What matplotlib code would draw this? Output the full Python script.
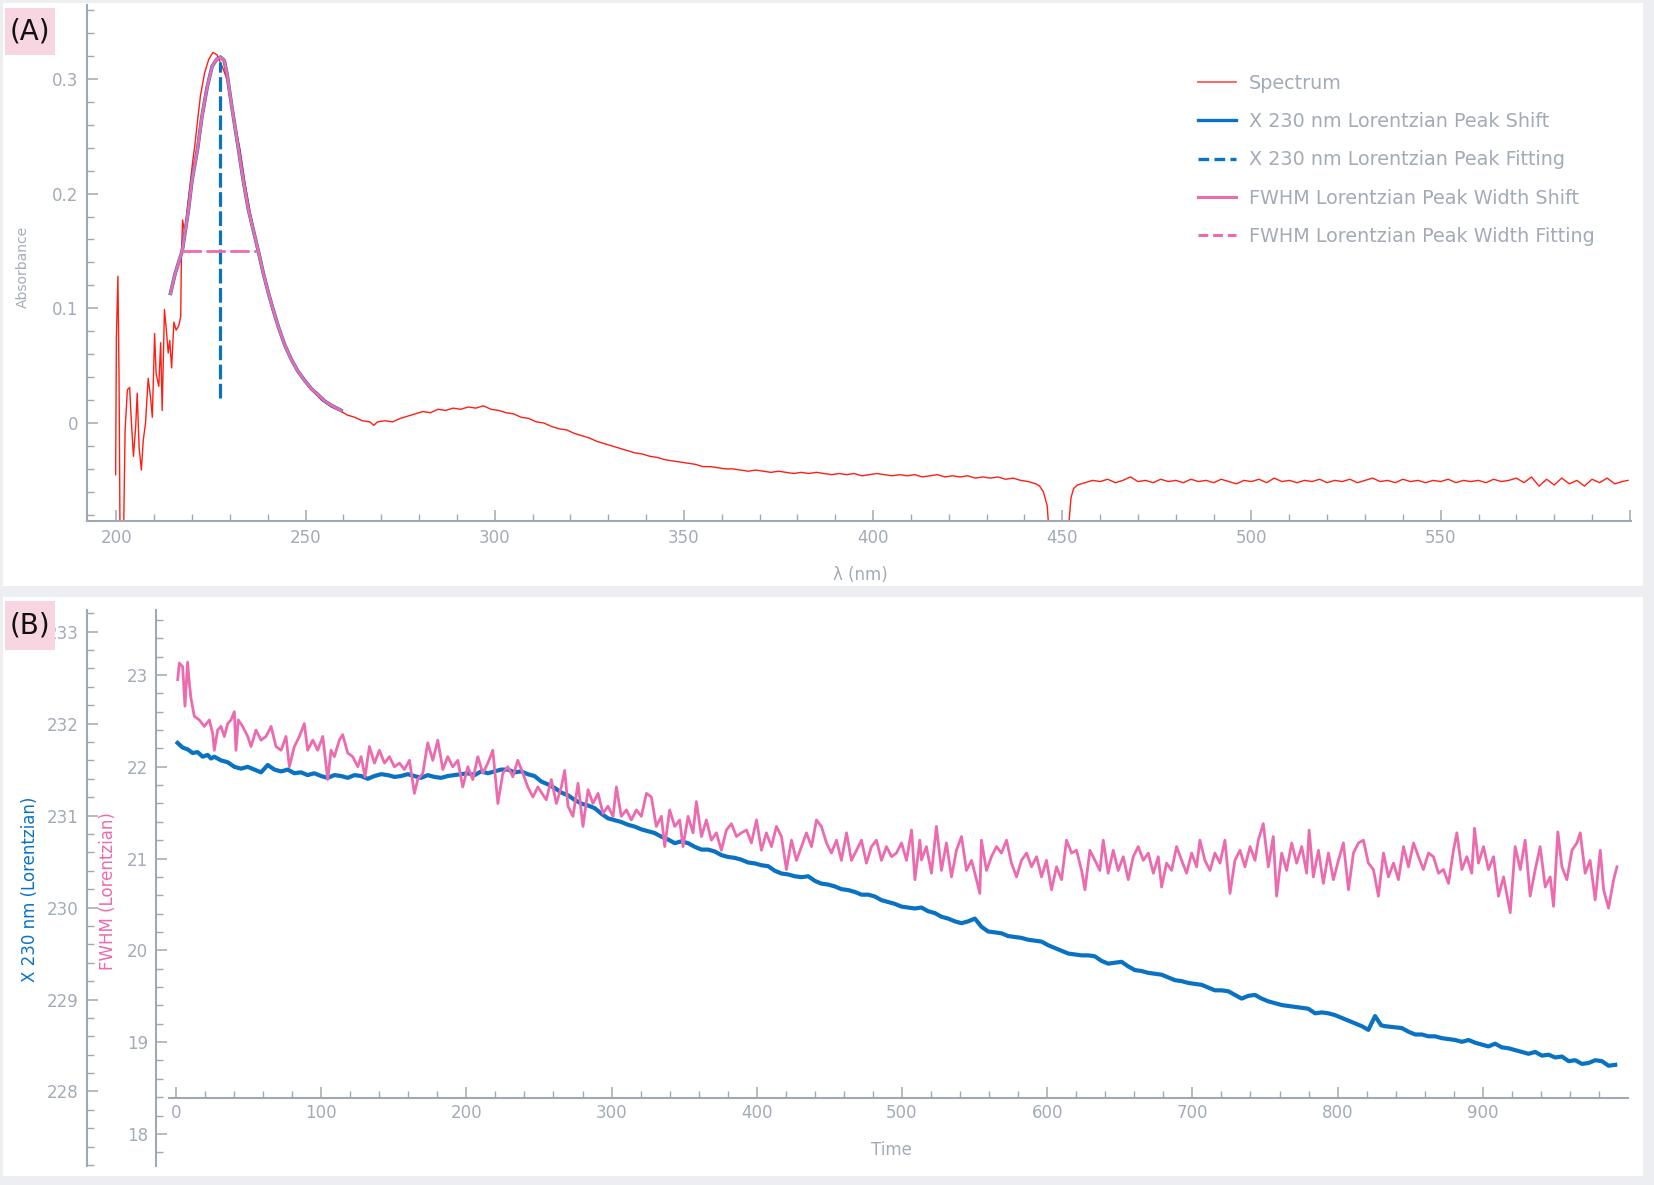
import matplotlib
matplotlib.use('Agg')
import matplotlib.pyplot as plt
from matplotlib.lines import Line2D
from matplotlib.patches import Rectangle
from matplotlib.ticker import FixedLocator

# ---------------- data: panel A (spectrum) ----------------
spec_wl = [199.8, 200.0, 200.4, 200.7, 201.0, 201.8, 202.3, 202.9, 203.5, 203.9, 204.5, 205.1, 205.5,
           206.0, 206.6, 207.1, 207.7, 208.4, 209.0, 209.5, 210.1, 210.5, 211.2, 211.7, 212.1, 212.7,
           213.2, 213.7, 214.1, 214.6, 215.2, 215.8, 216.5, 217.0, 217.2, 217.5, 218.1, 218.7, 219.3,
           220.2, 220.7, 221.3, 222.2, 223.3, 224.4, 225.5, 226.6, 227.5, 228.3, 229.6, 230.5, 231.4,
           232.7, 234.0, 235.4, 236.7, 238.0, 239.3, 240.6, 241.9, 243.7, 245.4, 247.2, 248.9, 251.6,
           254.2, 256.8, 259, 261, 263, 265, 267, 268, 269, 271, 273, 275, 277, 279, 281, 283, 285, 287,
           289, 291, 293, 295, 297, 299, 301, 303, 305, 307, 309, 311, 313, 315, 317, 319, 321, 323, 325,
           327, 329, 331, 333, 335, 337, 339, 341, 343, 345, 347, 349, 351, 353, 355, 357, 359, 361, 363,
           365, 367, 369, 371, 373, 375, 377, 379, 381, 383, 385, 387, 389, 391, 393, 395, 397, 399, 401,
           403, 405, 407, 409, 411, 413, 415, 417, 419, 421, 423, 425, 427, 429, 431, 433, 435, 437, 439,
           441, 443, 444, 445, 446, 446.5, 447, 451.3, 451.8, 452.3, 453, 454, 455, 456, 458, 460, 462,
           464, 466, 468, 470, 472, 474, 476, 478, 480, 482, 484, 486, 488, 490, 492, 494, 496, 498, 500,
           502, 504, 506, 508, 510, 512, 514, 516, 518, 520, 522, 524, 526, 528, 530, 532, 534, 536, 538,
           540, 542, 544, 546, 548, 550, 552, 554, 556, 558, 560, 562, 564, 566, 568, 570, 572, 574, 576,
           578, 580, 582, 584, 586, 588, 590, 592, 594, 596, 598, 599.5]
spec_abs = [-0.045, 0.0755, 0.128, 0.040, -0.12, -0.12, -0.006, 0.029, 0.031, 0.005, -0.029, -0.003, 0.026,
            -0.021, -0.041, -0.015, 0.0, 0.039, 0.023, 0.005, 0.078, 0.043, 0.032, 0.070, 0.011, 0.099,
            0.081, 0.061, 0.072, 0.048, 0.088, 0.081, 0.085, 0.093, 0.148, 0.177, 0.165, 0.186, 0.203,
            0.229, 0.241, 0.259, 0.285, 0.305, 0.317, 0.323, 0.321, 0.314, 0.308, 0.296, 0.276, 0.259,
            0.238, 0.209, 0.183, 0.162, 0.145, 0.125, 0.107, 0.093, 0.075, 0.061, 0.049, 0.040, 0.029,
            0.020, 0.014, 0.011, 0.007, 0.005, 0.002, 0.001, -0.002, 0.001, 0.002, 0.001, 0.004, 0.006,
            0.008, 0.010, 0.009, 0.012, 0.011, 0.013, 0.012, 0.014, 0.013, 0.015, 0.012, 0.011, 0.009,
            0.008, 0.005, 0.004, 0.001, 0.0, -0.003, -0.005, -0.006, -0.009, -0.011, -0.013, -0.016,
            -0.018, -0.020, -0.022, -0.024, -0.026, -0.027, -0.029, -0.030, -0.032, -0.033, -0.034,
            -0.035, -0.036, -0.038, -0.038, -0.039, -0.040, -0.040, -0.041, -0.042, -0.041, -0.042,
            -0.043, -0.042, -0.043, -0.044, -0.043, -0.044, -0.043, -0.044, -0.045, -0.044, -0.045,
            -0.044, -0.046, -0.045, -0.044, -0.045, -0.046, -0.045, -0.046, -0.045, -0.047, -0.046,
            -0.045, -0.047, -0.046, -0.047, -0.046, -0.048, -0.047, -0.048, -0.047, -0.049, -0.048,
            -0.050, -0.051, -0.053, -0.055, -0.060, -0.072, -0.095, -0.13, -0.13, -0.085, -0.065, -0.057,
            -0.054, -0.053, -0.052, -0.050, -0.051, -0.049, -0.052, -0.050, -0.047, -0.051, -0.050,
            -0.052, -0.049, -0.051, -0.050, -0.052, -0.049, -0.051, -0.050, -0.052, -0.049, -0.051,
            -0.053, -0.050, -0.051, -0.049, -0.052, -0.048, -0.051, -0.050, -0.052, -0.050, -0.051,
            -0.049, -0.052, -0.050, -0.051, -0.049, -0.052, -0.050, -0.048, -0.051, -0.050, -0.052,
            -0.049, -0.051, -0.050, -0.052, -0.050, -0.051, -0.049, -0.052, -0.050, -0.051, -0.050,
            -0.052, -0.049, -0.051, -0.050, -0.048, -0.052, -0.047, -0.055, -0.049, -0.054, -0.048,
            -0.053, -0.050, -0.055, -0.049, -0.052, -0.048, -0.053, -0.051, -0.050]

# Lorentzian fit curve
fit_wl = [214.3, 215.5, 217.4, 219.0, 220.0, 221.5, 222.6, 224.0, 225.3, 226.5, 227.5, 228.5, 229.2,
          230.5, 231.5, 232.3, 233.5, 234.9, 236.2, 237.5, 238.8, 240.2, 241.5, 242.8, 244.5, 246.3,
          248.0, 249.8, 251.5, 253.5, 255.1, 257.0, 259.4]
fit_abs = [0.113, 0.130, 0.150, 0.185, 0.212, 0.240, 0.267, 0.293, 0.311, 0.317, 0.319, 0.316, 0.305,
           0.276, 0.255, 0.238, 0.212, 0.186, 0.168, 0.150, 0.131, 0.113, 0.098, 0.084, 0.068, 0.055,
           0.045, 0.037, 0.030, 0.024, 0.019, 0.015, 0.011]
peak_wl = [227.5, 227.5]
peak_abs = [0.022, 0.315]
fwhm_wl = [217.4, 237.5]
fwhm_abs = [0.150, 0.150]

x_ticks_a = [200, 250, 300, 350, 400, 450, 500, 550, 600]
x_ticklabels_a = ['200', '250', '300', '350', '400', '450', '500', '550', '']
y_ticks_a = [0, 0.1, 0.2, 0.3]
y_ticklabels_a = ['0', '0.1', '0.2', '0.3']

# ---------------- data: panel B (time series) ----------------
t_x = [1.1, 4.5, 8.0, 11.5, 14.9, 18.4, 21.8, 24.1, 26.4, 31.0, 35.6, 40.2, 44.8, 49.4, 54.0, 58.6,
       63.2, 67.8, 72.4, 77.0, 81.5, 86.1, 90.7, 95.3, 99.9, 104.5, 109.1, 113.7, 118.3, 122.9, 127.5,
       132.1, 136.7, 141.3, 145.9, 150.5, 155.0, 159.6, 164.2, 168.8, 173.4, 178.0, 182.6, 187.2,
       191.8, 196.4, 201.0, 205.6, 210.2, 214.8, 219.4, 224.0, 228.6, 233.2, 237.7, 242.3, 246.9,
       251.6, 256.1, 260.8, 265.4, 270.0, 274.6, 279.2, 283.8, 288.4, 293.0, 297.5, 302.1, 306.7,
       311.3, 315.9, 320.5, 325.1, 329.7, 334.3, 338.9, 343.5, 348.1, 352.7, 357.3, 361.9, 366.5,
       371.0, 375.6, 380.2, 384.8, 389.4, 394.0, 398.6, 403.2, 407.8, 412.4, 417.0, 421.6, 426.2,
       430.8, 435.4, 440.0, 444.5, 449.1, 453.7, 458.3, 462.9, 467.5, 472.1, 476.7, 481.3, 485.9,
       490.5, 495.1, 499.7, 504.3, 508.9, 513.4, 518.0, 522.6, 527.2, 531.8, 536.4, 541.0, 545.6,
       550.2, 554.8, 559.3, 563.9, 568.5, 573.1, 577.7, 582.3, 586.9, 591.5, 596.1, 600.7, 605.3,
       609.9, 614.5, 619.1, 623.7, 628.3, 632.8, 637.4, 642.0, 646.6, 651.2, 655.8, 660.4, 665.0,
       669.6, 674.2, 678.8, 683.4, 688.0, 692.6, 697.2, 701.8, 706.3, 710.9, 715.5, 720.1, 724.7,
       729.3, 733.9, 738.5, 743.1, 747.7, 752.3, 756.9, 761.5, 766.1, 770.6, 775.3, 779.8, 784.5,
       789.1, 793.7, 798.3, 802.9, 807.5, 812.1, 816.7, 821.2, 825.8, 830.0, 832.7, 838.5, 844.2,
       848.8, 853.4, 858.0, 862.6, 867.2, 871.8, 876.4, 881.0, 885.6, 890.2, 894.8, 899.3, 903.9,
       908.5, 913.1, 917.7, 922.3, 926.9, 931.5, 936.1, 940.7, 945.3, 949.9, 954.5, 959.1, 963.7,
       968.3, 972.8, 977.4, 982.0, 986.6, 991.2]
x230 = [231.79, 231.74, 231.72, 231.68, 231.69, 231.64, 231.66, 231.62, 231.64, 231.60, 231.58, 231.53,
        231.51, 231.53, 231.50, 231.47, 231.55, 231.50, 231.48, 231.50, 231.46, 231.47, 231.44, 231.46,
        231.43, 231.41, 231.44, 231.43, 231.41, 231.44, 231.43, 231.40, 231.43, 231.45, 231.44, 231.42,
        231.43, 231.45, 231.43, 231.41, 231.44, 231.42, 231.41, 231.43, 231.44, 231.45, 231.46, 231.44,
        231.48, 231.46, 231.48, 231.50, 231.50, 231.47, 231.48, 231.45, 231.43, 231.37, 231.34, 231.30,
        231.25, 231.22, 231.17, 231.13, 231.11, 231.08, 231.02, 230.97, 230.95, 230.93, 230.90, 230.88,
        230.85, 230.83, 230.81, 230.77, 230.74, 230.70, 230.72, 230.70, 230.66, 230.63, 230.63, 230.61,
        230.57, 230.55, 230.54, 230.52, 230.49, 230.48, 230.46, 230.45, 230.40, 230.37, 230.36, 230.34,
        230.33, 230.34, 230.29, 230.26, 230.25, 230.23, 230.20, 230.19, 230.17, 230.14, 230.14, 230.12,
        230.08, 230.06, 230.04, 230.01, 230.00, 229.99, 230.00, 229.96, 229.94, 229.90, 229.88, 229.85,
        229.83, 229.85, 229.88, 229.79, 229.74, 229.73, 229.72, 229.69, 229.68, 229.67, 229.65, 229.64,
        229.63, 229.59, 229.56, 229.53, 229.50, 229.49, 229.48, 229.48, 229.47, 229.42, 229.39, 229.40,
        229.41, 229.36, 229.32, 229.31, 229.29, 229.28, 229.27, 229.24, 229.21, 229.20, 229.18, 229.17,
        229.16, 229.13, 229.10, 229.10, 229.09, 229.05, 229.01, 229.04, 229.05, 229.01, 228.98, 228.96,
        228.94, 228.93, 228.92, 228.91, 228.90, 228.85, 228.86, 228.85, 228.83, 228.80, 228.77, 228.74,
        228.71, 228.67, 228.82, 228.72, 228.71, 228.70, 228.69, 228.65, 228.62, 228.62, 228.60, 228.60,
        228.58, 228.57, 228.56, 228.54, 228.56, 228.53, 228.51, 228.49, 228.52, 228.48, 228.47, 228.45,
        228.43, 228.41, 228.43, 228.39, 228.40, 228.37, 228.38, 228.33, 228.34, 228.30, 228.31, 228.34,
        228.33, 228.28, 228.29]

t_fwhm = [1.2, 2.3, 4.6, 6.2, 8.0, 9.2, 10.3, 12.6, 16.1, 19.5, 23.0, 25.3, 26.4, 28.7, 31.0, 33.3,
          35.6, 37.9, 40.2, 41.3, 42.9, 45.9, 49.4, 51.7, 55.1, 58.6, 62.0, 65.5, 68.9, 72.4, 75.8,
          78.1, 81.5, 85.0, 88.4, 90.7, 94.2, 97.6, 101.1, 104.5, 106.8, 109.1, 112.5, 114.8, 118.3,
          121.7, 125.2, 127.5, 130.2, 133.2, 136.7, 140.1, 143.6, 147.0, 150.4, 153.9, 157.3, 160.8,
          164.2, 166.5, 170.0, 173.4, 176.9, 180.3, 183.8, 187.2, 190.6, 194.1, 197.5, 201.0, 204.4,
          207.9, 211.3, 214.8, 218.2, 221.7, 225.1, 228.6, 232.0, 235.4, 238.9, 242.3, 245.8, 249.2,
          255.0, 258.5, 262.0, 265.4, 267.7, 270.0, 273.4, 276.9, 280.3, 283.8, 287.2, 290.7, 294.1,
          297.5, 301.0, 303.3, 306.7, 310.2, 313.6, 317.1, 320.5, 324.0, 327.4, 330.8, 334.3, 336.6,
          340.0, 343.5, 346.9, 349.2, 352.7, 356.1, 358.4, 361.9, 365.3, 368.7, 372.2, 375.6, 379.1,
          382.5, 386.0, 389.4, 392.9, 396.3, 399.8, 403.2, 406.6, 410.1, 413.5, 417.0, 420.4, 423.9,
          427.3, 430.8, 434.2, 437.7, 441.1, 444.5, 448.0, 451.4, 454.9, 458.3, 461.8, 465.2, 468.7,
          472.1, 475.5, 479.0, 482.4, 485.9, 489.3, 492.8, 496.2, 499.7, 503.1, 506.6, 508.9, 512.3,
          513.4, 516.8, 520.3, 523.7, 527.2, 530.6, 534.1, 537.5, 541.0, 544.4, 547.9, 551.3, 553.6,
          554.7, 558.2, 561.6, 565.1, 568.5, 572.0, 575.4, 578.9, 582.3, 585.8, 589.2, 592.7, 596.1,
          599.5, 603.0, 606.4, 609.9, 613.3, 616.8, 620.2, 623.7, 626.0, 629.4, 632.9, 636.3, 638.6,
          642.0, 645.5, 648.9, 652.4, 655.8, 659.3, 662.7, 666.2, 669.6, 673.1, 676.5, 678.8, 682.2,
          685.7, 689.1, 692.6, 696.0, 699.5, 702.9, 705.2, 708.6, 712.1, 715.5, 719.0, 722.4, 725.9,
          729.3, 732.8, 736.2, 739.7, 743.1, 745.4, 748.8, 752.3, 755.7, 758.0, 761.5, 764.9, 768.4,
          771.8, 775.3, 778.7, 780.4, 783.3, 786.8, 790.2, 793.7, 797.1, 800.6, 804.0, 807.5, 810.9,
          814.4, 817.8, 821.2, 824.7, 828.1, 831.6, 835.0, 838.5, 841.9, 845.4, 848.8, 852.3, 855.7,
          859.1, 862.6, 866.0, 869.5, 872.9, 876.4, 879.8, 882.1, 885.6, 889.0, 892.4, 894.3, 897.0,
          900.5, 903.9, 907.4, 910.8, 914.3, 918.9, 922.3, 925.8, 929.2, 932.6, 936.1, 939.5, 943.0,
          946.4, 948.7, 951.7, 954.5, 957.9, 961.4, 964.8, 967.1, 970.5, 973.9, 977.4, 980.9, 983.2,
          986.6, 990.1, 992.4]
fwhm = [22.95, 23.13, 23.09, 22.66, 23.14, 22.91, 22.75, 22.55, 22.51, 22.44, 22.51, 22.36, 22.18, 22.40,
        22.44, 22.33, 22.47, 22.51, 22.60, 22.18, 22.51, 22.44, 22.33, 22.22, 22.40, 22.29, 22.33, 22.44,
        22.22, 22.18, 22.33, 22.00, 22.22, 22.33, 22.47, 22.18, 22.29, 22.18, 22.33, 21.86, 22.18, 22.11,
        22.29, 22.35, 22.15, 22.11, 22.00, 22.11, 21.89, 22.22, 22.04, 22.18, 22.04, 22.11, 22.00, 22.04,
        21.97, 22.07, 21.71, 21.86, 21.93, 22.26, 22.07, 22.29, 21.97, 22.11, 22.00, 22.07, 21.78, 22.00,
        21.86, 22.11, 21.93, 22.04, 22.18, 21.60, 21.93, 22.00, 21.89, 22.07, 21.93, 21.78, 21.67, 21.78,
        21.64, 21.86, 21.60, 21.78, 21.96, 21.57, 21.46, 21.82, 21.35, 21.75, 21.60, 21.71, 21.49, 21.57,
        21.46, 21.78, 21.46, 21.53, 21.42, 21.53, 21.46, 21.71, 21.67, 21.35, 21.46, 21.13, 21.53, 21.35,
        21.42, 21.13, 21.46, 21.28, 21.62, 21.24, 21.42, 21.20, 21.28, 21.09, 21.31, 21.38, 21.24, 21.28,
        21.31, 21.17, 21.42, 21.09, 21.28, 21.13, 21.35, 21.24, 20.88, 21.20, 20.98, 21.13, 21.28, 21.13,
        21.42, 21.35, 21.17, 21.06, 21.20, 20.98, 21.28, 20.98, 21.09, 21.20, 20.95, 21.13, 21.20, 20.98,
        21.13, 21.02, 21.06, 21.17, 20.98, 21.31, 20.77, 21.20, 20.985, 21.13, 20.84, 21.35, 20.87, 21.17,
        20.80, 21.09, 21.24, 20.87, 20.98, 20.77, 20.62, 21.20, 20.87, 21.02, 21.13, 21.06, 21.20, 20.95,
        20.80, 20.98, 21.06, 20.91, 21.02, 20.80, 20.98, 20.66, 20.91, 20.77, 21.20, 21.06, 21.09, 20.87,
        20.66, 21.09, 20.98, 20.87, 21.20, 20.84, 21.09, 20.87, 21.02, 20.77, 21.02, 21.13, 20.98, 21.06,
        20.84, 21.02, 20.69, 20.95, 20.87, 21.13, 20.98, 20.84, 21.06, 20.91, 21.20, 20.98, 20.87, 21.06,
        20.95, 21.20, 20.62, 20.98, 21.09, 20.91, 21.13, 20.98, 21.20, 21.38, 20.91, 21.24, 20.59, 21.06,
        20.87, 21.17, 20.95, 21.13, 20.84, 21.31, 20.80, 21.09, 20.73, 21.06, 20.77, 20.98, 21.17, 20.66,
        21.06, 21.17, 21.20, 20.95, 20.88, 20.59, 21.06, 20.80, 20.95, 20.77, 21.13, 20.91, 21.17, 21.02,
        20.88, 21.06, 21.02, 20.84, 20.88, 20.73, 21.09, 21.28, 20.88, 21.02, 20.84, 21.33, 20.95, 21.13,
        20.88, 21.02, 20.59, 20.80, 20.41, 21.13, 20.88, 21.20, 20.59, 20.88, 21.13, 20.69, 20.80, 20.48,
        21.29, 20.91, 20.77, 21.09, 21.17, 21.28, 20.84, 20.98, 20.55, 21.09, 20.66, 20.46, 20.77, 20.91]

t_ticks = [0, 100, 200, 300, 400, 500, 600, 700, 800, 900]
t_minor = [v for v in range(20, 1000, 20) if v % 100 != 0]
x230_ticks = [228, 229, 230, 231, 232, 233]
fwhm_ticks = [18, 19, 20, 21, 22, 23]

# ---------------- styling ----------------
W, H = 1654, 1185
RED = '#ff1e14'
BLUE = '#0a72c2'
PINK = '#ec6aae'
SPINE = '#a0a8b3'
TICKTXT = '#a3abb7'
BG = '#eceef1'

def fx(x):
    return x / W

def fy(y):
    return 1 - y / H

fig = plt.figure(figsize=(W / 100, H / 100), dpi=100, facecolor=BG)

for (x0, y0, x1, y1) in [(3, 3, 1643, 586), (3, 597, 1643, 1176)]:
    fig.add_artist(Rectangle((fx(x0), fy(y1)), fx(x1) - fx(x0), fy(y0) - fy(y1),
                             transform=fig.transFigure, facecolor='white', edgecolor='none', zorder=-5))


def style_ticks(ax, axis, major_len=8, minor_len=5, pad=6, size=12):
    ax.tick_params(axis=axis, which='major', direction='in', length=major_len, width=1.1,
                   color=SPINE, labelcolor=TICKTXT, labelsize=size, pad=pad)
    ax.tick_params(axis=axis, which='minor', direction='in', length=minor_len, width=1.0, color=SPINE)


# ---------------- panel A ----------------
ax_a = fig.add_axes([fx(86.5), fy(521), fx(1631) - fx(86.5), fy(5) - fy(521)])
ax_a.set_facecolor('none')
ax_a.plot(spec_wl, spec_abs, color=RED, lw=1.0, zorder=2)
ax_a.plot(fit_wl, fit_abs, color=BLUE, lw=2.6, zorder=3)
ax_a.plot(fit_wl, fit_abs, color=PINK, lw=2.0, zorder=4)
ax_a.plot(peak_wl, peak_abs, color=BLUE, lw=2.3, dashes=(4.6, 1.4), zorder=5)
ax_a.plot(fwhm_wl, fwhm_abs, color=PINK, lw=2.0, dashes=(7, 1.6), zorder=5)
ax_a.set_xlim(192.1, 600.3)
ax_a.set_ylim(-0.0854, 0.3644)
ax_a.set_xticks(x_ticks_a)
ax_a.set_xticklabels(x_ticklabels_a)
ax_a.xaxis.set_minor_locator(FixedLocator([v for v in range(200, 601, 10) if v % 50 != 0]))
ax_a.set_yticks(y_ticks_a)
ax_a.set_yticklabels(y_ticklabels_a)
ax_a.yaxis.set_minor_locator(FixedLocator([-0.08, -0.06, -0.04, -0.02, 0.02, 0.04, 0.06, 0.08, 0.12,
                                           0.14, 0.16, 0.18, 0.22, 0.24, 0.26, 0.28, 0.32, 0.34, 0.36]))
for s in ['top', 'right']:
    ax_a.spines[s].set_visible(False)
for s in ['left', 'bottom']:
    ax_a.spines[s].set_color(SPINE)
    ax_a.spines[s].set_linewidth(1.5)
style_ticks(ax_a, 'x', pad=6)
style_ticks(ax_a, 'y', pad=6)

handles = [
    Line2D([], [], color='#ff5a4e', lw=1.3),
    Line2D([], [], color=BLUE, lw=2.4),
    Line2D([], [], color=BLUE, lw=2.4, dashes=(3.2, 1.6)),
    Line2D([], [], color=PINK, lw=2.2),
    Line2D([], [], color=PINK, lw=2.2, dashes=(3.2, 1.6)),
]
labels = ['Spectrum', 'X 230 nm Lorentzian Peak Shift', 'X 230 nm Lorentzian Peak Fitting',
          'FWHM Lorentzian Peak Width Shift', 'FWHM Lorentzian Peak Width Fitting']
leg = fig.legend(handles, labels, loc='upper left', bbox_to_anchor=(fx(1198), fy(74)),
                 frameon=False, fontsize=13.8, labelcolor=TICKTXT, borderpad=0, borderaxespad=0,
                 handlelength=2.0, handletextpad=0.65, labelspacing=1.0)

fig.text(fx(23), fy(267), 'Absorbance', rotation=90, ha='center', va='center', fontsize=10, color=TICKTXT)
fig.text(fx(860), fy(575), 'λ (nm)', ha='center', va='center', fontsize=12, color=TICKTXT)

# ---------------- panel B ----------------
ax_x = fig.add_axes([fx(169), fy(1166), fx(1628) - fx(169), fy(610) - fy(1166)])
ax_x.set_facecolor('none')
ax_x.plot(t_x, x230, color=BLUE, lw=3.0)
ax_x.set_xlim(-4.8, 1000)
ax_x.set_ylim(227.19, 233.235)
ax_x.set_xticks(t_ticks)
ax_x.xaxis.set_minor_locator(FixedLocator(t_minor))
ax_x.set_yticks(x230_ticks)
ax_x.yaxis.set_minor_locator(FixedLocator([v / 10 for v in range(2272, 2334, 2) if v % 10 != 0]))
ax_x.spines['top'].set_visible(False)
ax_x.spines['right'].set_visible(False)
ax_x.spines['left'].set_position(('outward', 82.5 * 0.72))
ax_x.spines['bottom'].set_position(('axes', 0.1223))
for s in ['left', 'bottom']:
    ax_x.spines[s].set_color(SPINE)
    ax_x.spines[s].set_linewidth(1.5)
style_ticks(ax_x, 'x', pad=4.5)
style_ticks(ax_x, 'y', pad=5.5)

ax_f = ax_x.twinx()
ax_f.plot(t_fwhm, fwhm, color=PINK, lw=2.0)
ax_f.set_ylim(17.65, 23.708)
ax_f.yaxis.tick_left()
ax_f.yaxis.set_label_position('left')
ax_f.set_yticks(fwhm_ticks)
ax_f.yaxis.set_minor_locator(FixedLocator([v / 10 for v in range(178, 238, 2) if v % 10 != 0]))
for s in ['top', 'right', 'bottom']:
    ax_f.spines[s].set_visible(False)
ax_f.spines['left'].set_visible(True)
ax_f.spines['left'].set_position(('outward', 13 * 0.72))
ax_f.spines['left'].set_color(SPINE)
ax_f.spines['left'].set_linewidth(1.5)
style_ticks(ax_f, 'y', pad=5.8)

fig.text(fx(30), fy(889), 'X 230 nm (Lorentzian)', rotation=90, ha='center', va='center',
         fontsize=12, color=BLUE)
fig.text(fx(108), fy(891), 'FWHM (Lorentzian)', rotation=90, ha='center', va='center',
         fontsize=12, color=PINK)
fig.text(fx(891), fy(1150), 'Time', ha='center', va='center', fontsize=12, color=TICKTXT)

# ---------------- panel tags ----------------
for (y0, y1, tag) in [(8, 55, '(A)'), (601, 650, '(B)')]:
    fig.add_artist(Rectangle((fx(5), fy(y1)), fx(55) - fx(5), fy(y0) - fy(y1),
                             transform=fig.transFigure, facecolor='#f8d6e1', edgecolor='none', zorder=5))
    fig.text(fx(30), fy((y0 + y1) / 2), tag, ha='center', va='center', fontsize=20, color='#111111', zorder=6)

fig.savefig('out.png', dpi=100, facecolor=BG)
